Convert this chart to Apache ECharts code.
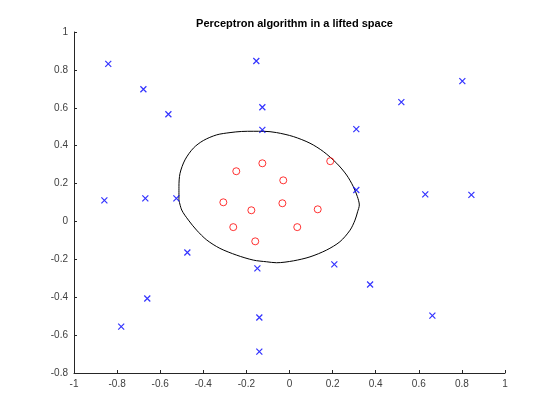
<!DOCTYPE html>
<html>
<head>
<meta charset="utf-8">
<script src="https://cdn.jsdelivr.net/npm/echarts@6/dist/echarts.min.js"></script>
<style>html,body{margin:0;padding:0;background:#fff}#c{width:560px;height:420px}</style>
</head>
<body>
<div id="c"></div>
<script>
var titleText = 'Perceptron algorithm in a lifted space';
var xTickLabels = ['-1','-0.8','-0.6','-0.4','-0.2','0','0.2','0.4','0.6','0.8','1'];
var yTickLabels = ['-0.8','-0.6','-0.4','-0.2','0','0.2','0.4','0.6','0.8','1'];

var negX = [-0.841,-0.678,-0.562,-0.154,-0.126,-0.126,-0.859,-0.669,-0.525,0.802,0.519,0.310,0.310,0.630,0.844,-0.474,-0.660,-0.781,-0.149,-0.140,-0.140,0.208,0.374,0.663];
var negY = [0.832,0.698,0.566,0.847,0.603,0.483,0.111,0.122,0.122,0.741,0.630,0.487,0.166,0.143,0.140,-0.164,-0.407,-0.555,-0.248,-0.507,-0.687,-0.227,-0.333,-0.497];

var posX = [-0.247,-0.126,-0.029,-0.307,-0.177,-0.033,0.189,0.131,-0.261,-0.159,0.036];
var posY = [0.265,0.307,0.217,0.101,0.059,0.096,0.318,0.064,-0.030,-0.105,-0.030];

var boundaryX = [-0.513,-0.513,-0.508,-0.485,-0.446,-0.400,-0.338,-0.276,-0.222,-0.168,-0.121,-0.060,0.018,0.095,0.157,0.219,0.265,0.296,0.315,0.324,0.316,0.304,0.281,0.234,0.172,0.095,0.018,-0.060,-0.106,-0.168,-0.245,-0.323,-0.384,-0.431,-0.469,-0.500,-0.513];
var boundaryY = [0.113,0.184,0.254,0.325,0.387,0.427,0.457,0.469,0.475,0.476,0.476,0.469,0.448,0.413,0.369,0.307,0.245,0.184,0.131,0.087,0.051,0.007,-0.046,-0.107,-0.151,-0.187,-0.208,-0.218,-0.213,-0.204,-0.178,-0.142,-0.098,-0.046,0.007,0.060,0.113];

function zip(a, b) { return a.map(function (v, i) { return [v, b[i]]; }); }

var axisColor = '#262626';
var labelColor = '#404040';
var font = 'Liberation Sans, Arial, Helvetica, sans-serif';

var chart = echarts.init(document.getElementById('c'), null, {renderer: 'canvas'});
chart.setOption({
  animation: false,
  backgroundColor: '#fff',
  title: {
    text: titleText,
    left: 289.5,
    textAlign: 'center',
    top: 13,
    textStyle: {fontFamily: font, fontSize: 11, fontWeight: 'bold', color: '#000'}
  },
  grid: {left: 74, right: 55, top: 32, bottom: 47, containLabel: false},
  xAxis: {
    type: 'value', min: -1, max: 1, interval: 0.2,
    axisLine: {onZero: false, lineStyle: {color: axisColor, width: 1}},
    axisTick: {inside: true, length: 3, lineStyle: {color: axisColor}},
    splitLine: {show: false},
    axisLabel: {
      margin: 6, color: labelColor, fontFamily: font, fontSize: 10,
      formatter: function (v) { return xTickLabels[Math.round((v + 1) / 0.2)]; }
    }
  },
  yAxis: {
    type: 'value', min: -0.8, max: 1, interval: 0.2,
    axisLine: {onZero: false, lineStyle: {color: axisColor, width: 1}},
    axisTick: {inside: true, length: 3, lineStyle: {color: axisColor}},
    splitLine: {show: false},
    axisLabel: {
      margin: 6, color: labelColor, fontFamily: font, fontSize: 10,
      formatter: function (v) { return yTickLabels[Math.round((v + 0.8) / 0.2)]; }
    }
  },
  series: [
    {
      type: 'line',
      data: zip(boundaryX, boundaryY),
      showSymbol: false,
      smooth: 0.3,
      lineStyle: {color: '#000', width: 1},
      z: 1
    },
    {
      type: 'scatter',
      data: zip(negX, negY),
      symbol: 'path://M0,0L10,10M10,0L0,10',
      symbolSize: 6,
      itemStyle: {color: 'none', borderColor: '#0000ff', borderWidth: 1.2},
      z: 3
    },
    {
      type: 'scatter',
      data: zip(posX, posY),
      symbol: 'circle',
      symbolSize: 7,
      itemStyle: {color: 'none', borderColor: '#ff0000', borderWidth: 1},
      z: 3
    }
  ]
});
</script>
</body>
</html>
